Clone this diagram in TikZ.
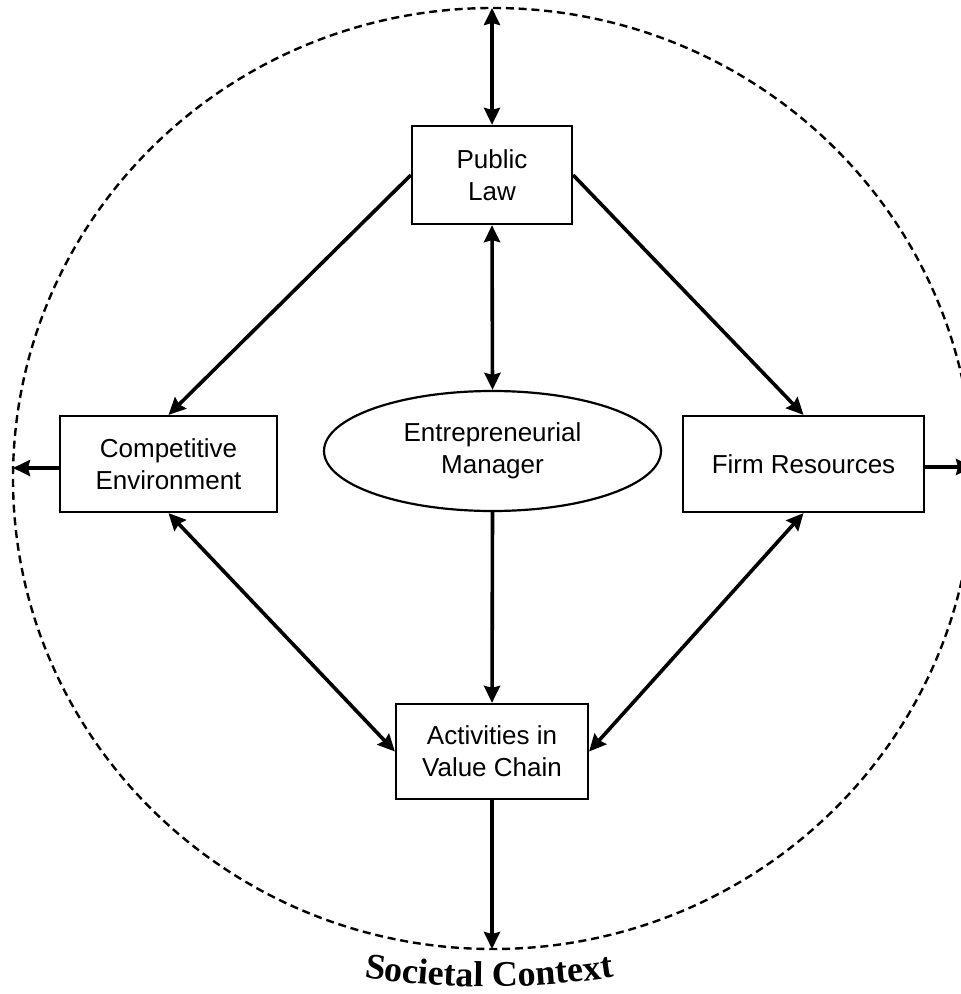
\documentclass[tikz,border=0pt]{standalone}
\usepackage{fontspec}
\setmainfont{Liberation Sans}
\newfontfamily\ctxfont{Liberation Serif}
\usepackage{tikz}
\usetikzlibrary{shapes,arrows.meta,decorations.text}
\tikzstyle{block} = [rectangle, draw=black, line width=1.1pt, inner sep=0pt, align=center, font=\fontsize{13}{16}\selectfont]
\tikzstyle{arrow} = [line width=1.8pt, ->, >={Stealth[length=8.5pt,width=8pt,inset=1pt]}]
\tikzstyle{twoway} = [arrow, <->]
\tikzstyle{context} = [line width=1.2pt, dash pattern=on 4pt off 2.4pt]

\begin{document}
\begin{tikzpicture}[x=0.5pt, y=-0.5pt]
        \clip (0,0) rectangle (961,994);
        
        \draw[context] (493,478.5) ellipse [x radius=480, y radius=470.5];
        \coordinate (ctxTop) at (493,8);
        \coordinate (ctxBottom) at (492,949);
        \coordinate (ctxLeft) at (13,468);
        \coordinate (ctxRight) at (973,467);
        
        \node (pubLaw) at (492,175) [block, minimum width=80pt, minimum height=49pt] {Public \\ Law};
        \node (compEnv) at (168.5,464) [block, minimum width=108.5pt, minimum height=48pt] {Competitive \\ Environment};
        \node (firmRes) at (803.5,464) [block, minimum width=120.5pt, minimum height=48pt] {Firm Resources};
        \node (entMan) at (492.5,451) [ellipse, draw=black, line width=1.1pt, inner sep=0pt, minimum width=168.5pt, minimum height=60pt, align=center, font=\fontsize{13}{16}\selectfont] {Entrepreneurial \\ Manager};
        \node (actVal) at (492,751.5) [block, minimum width=96pt, minimum height=47.5pt] {Activities in \\ Value Chain};
        
        \draw[twoway] (pubLaw.north |- ctxTop) -- (pubLaw.north);
        \draw[twoway] (pubLaw.south) -- (entMan.north);
        \draw[arrow] (pubLaw.west) -- (compEnv.north);
        \draw[arrow] (pubLaw.east) -- (firmRes.north);
        \draw[arrow] (entMan.south) -- (actVal.north);
        
        \draw[twoway] (compEnv.south) -- (actVal.west);
        \draw[twoway] (firmRes.south) -- (actVal.east);
        
        \draw[arrow] (compEnv.west |- ctxLeft) -- (ctxLeft);
        \draw[arrow] (firmRes.east |- ctxRight) -- (ctxRight);
        \draw[arrow] (actVal.south) -- (ctxBottom);
        
        \path[decorate, decoration={text along path, text align=center, text={|\ctxfont\bfseries\fontsize{18}{20}\selectfont|Societal Context}}] (363,977) .. controls (447,990) and (531,990) .. (615,977);
        
    \end{tikzpicture}
\end{document}
